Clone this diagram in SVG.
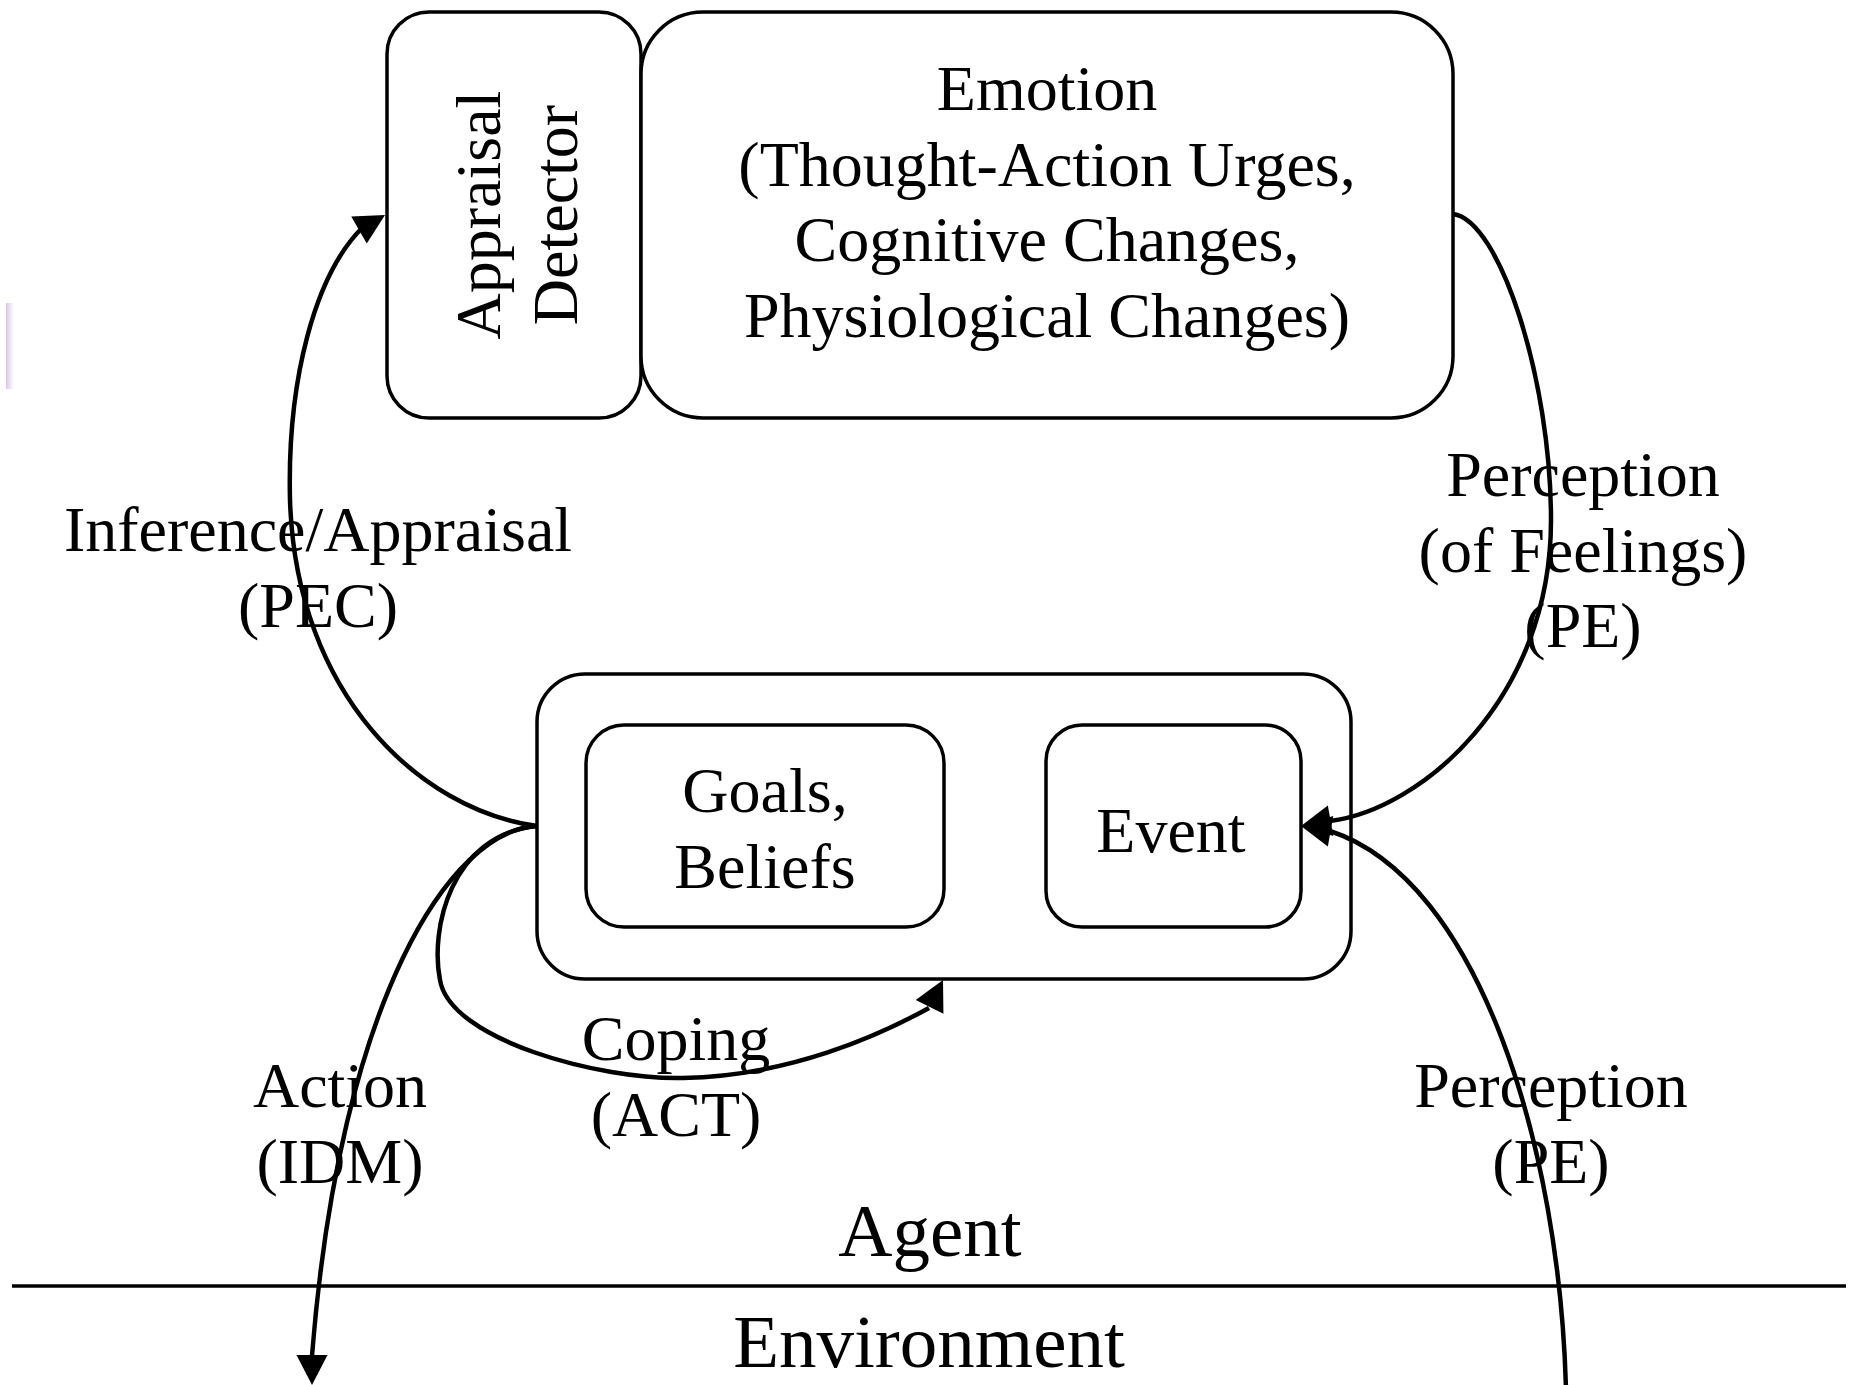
<svg xmlns="http://www.w3.org/2000/svg" xmlns:xlink="http://www.w3.org/1999/xlink" width="1862" height="1385" viewBox="0 0 1862 1385">
<style>
.box{fill:#fff;stroke:#000;stroke-width:3.5}
.con{fill:none;stroke:#000;stroke-width:4.5}
.t{font-family:"Liberation Serif","Times New Roman",serif;font-size:64px;fill:#000;text-anchor:middle}
.big{font-size:75px}
</style>
<defs>
<path id="ah" d="M0,0 L-30,-15.5 L-30,15.5 Z" fill="#000"/>
<linearGradient id="pg" x1="0" y1="0" x2="1" y2="0">
<stop offset="0" stop-color="#d9c8e8"/>
<stop offset="1" stop-color="#d9c8e8" stop-opacity="0"/>
</linearGradient>
</defs>
<rect width="1862" height="1385" fill="#fff"/>
<rect x="6" y="303" width="8" height="86" fill="url(#pg)"/>
<g id="appraisal-detector">
<rect class="box" x="387" y="12" width="254" height="406" rx="42" ry="42"/>
<text class="t" transform="translate(500,215) rotate(-90)">Appraisal</text>
<text class="t" transform="translate(577,215) rotate(-90)">Detector</text>
</g>
<g id="emotion">
<rect class="box" x="641" y="12" width="812" height="406" rx="62" ry="62"/>
<text class="t" x="1047" y="110">Emotion</text>
<text class="t" x="1047" y="185.5">(Thought-Action Urges,</text>
<text class="t" x="1047" y="261">Cognitive Changes,</text>
<text class="t" x="1047" y="336.5">Physiological Changes)</text>
</g>
<g id="agent-state">
<rect class="box" x="537" y="674" width="814" height="305" rx="48" ry="48"/>
</g>
<g id="goals-beliefs">
<rect class="box" x="586" y="725" width="358" height="202" rx="38" ry="38"/>
<text class="t" x="765" y="812">Goals,</text>
<text class="t" x="765" y="888">Beliefs</text>
</g>
<g id="event">
<rect class="box" x="1046" y="725" width="255" height="202" rx="36" ry="36"/>
<text class="t" x="1171" y="852">Event</text>
</g>
<g id="boundary">
<line x1="12" y1="1286" x2="1846" y2="1286" stroke="#000" stroke-width="3.5"/>
<text class="t big" x="930" y="1256">Agent</text>
<text class="t big" x="929" y="1367">Environment</text>
</g>
<g id="connectors">
<path class="con" d="M537,826 C420,810 296,695 290,500 C287,380 315,275 362,228"/>
<use xlink:href="#ah" transform="translate(385,215) rotate(-30)"/>
<path class="con" d="M1453,214 C1500,220 1551,380 1551,520 C1551,700 1420,810 1330,821"/>
<use xlink:href="#ah" transform="translate(1301,826) rotate(170)"/>
<path class="con" d="M1566,1390 C1560,1150 1480,880 1330,831"/>
<use xlink:href="#ah" transform="translate(1301,826) rotate(190)"/>
<path class="con" d="M537,826 C450,835 430,930 440,980 C450,1040 600,1080 683,1078 C790,1076 880,1035 929,1008"/>
<use xlink:href="#ah" transform="translate(943,980) rotate(-63.4)"/>
<path class="con" d="M537,826 C450,830 340,1000 312,1356"/>
<use xlink:href="#ah" transform="translate(312,1385) rotate(90)"/>
</g>
<g id="labels">
<text class="t" x="318" y="551">Inference/Appraisal</text>
<text class="t" x="318" y="627">(PEC)</text>
<text class="t" x="1583" y="496">Perception</text>
<text class="t" x="1583" y="572">(of Feelings)</text>
<text class="t" x="1583" y="647">(PE)</text>
<text class="t" x="676" y="1060">Coping</text>
<text class="t" x="676" y="1136">(ACT)</text>
<text class="t" x="340" y="1107">Action</text>
<text class="t" x="340" y="1183">(IDM)</text>
<text class="t" x="1551" y="1107">Perception</text>
<text class="t" x="1551" y="1183">(PE)</text>
</g>
</svg>
